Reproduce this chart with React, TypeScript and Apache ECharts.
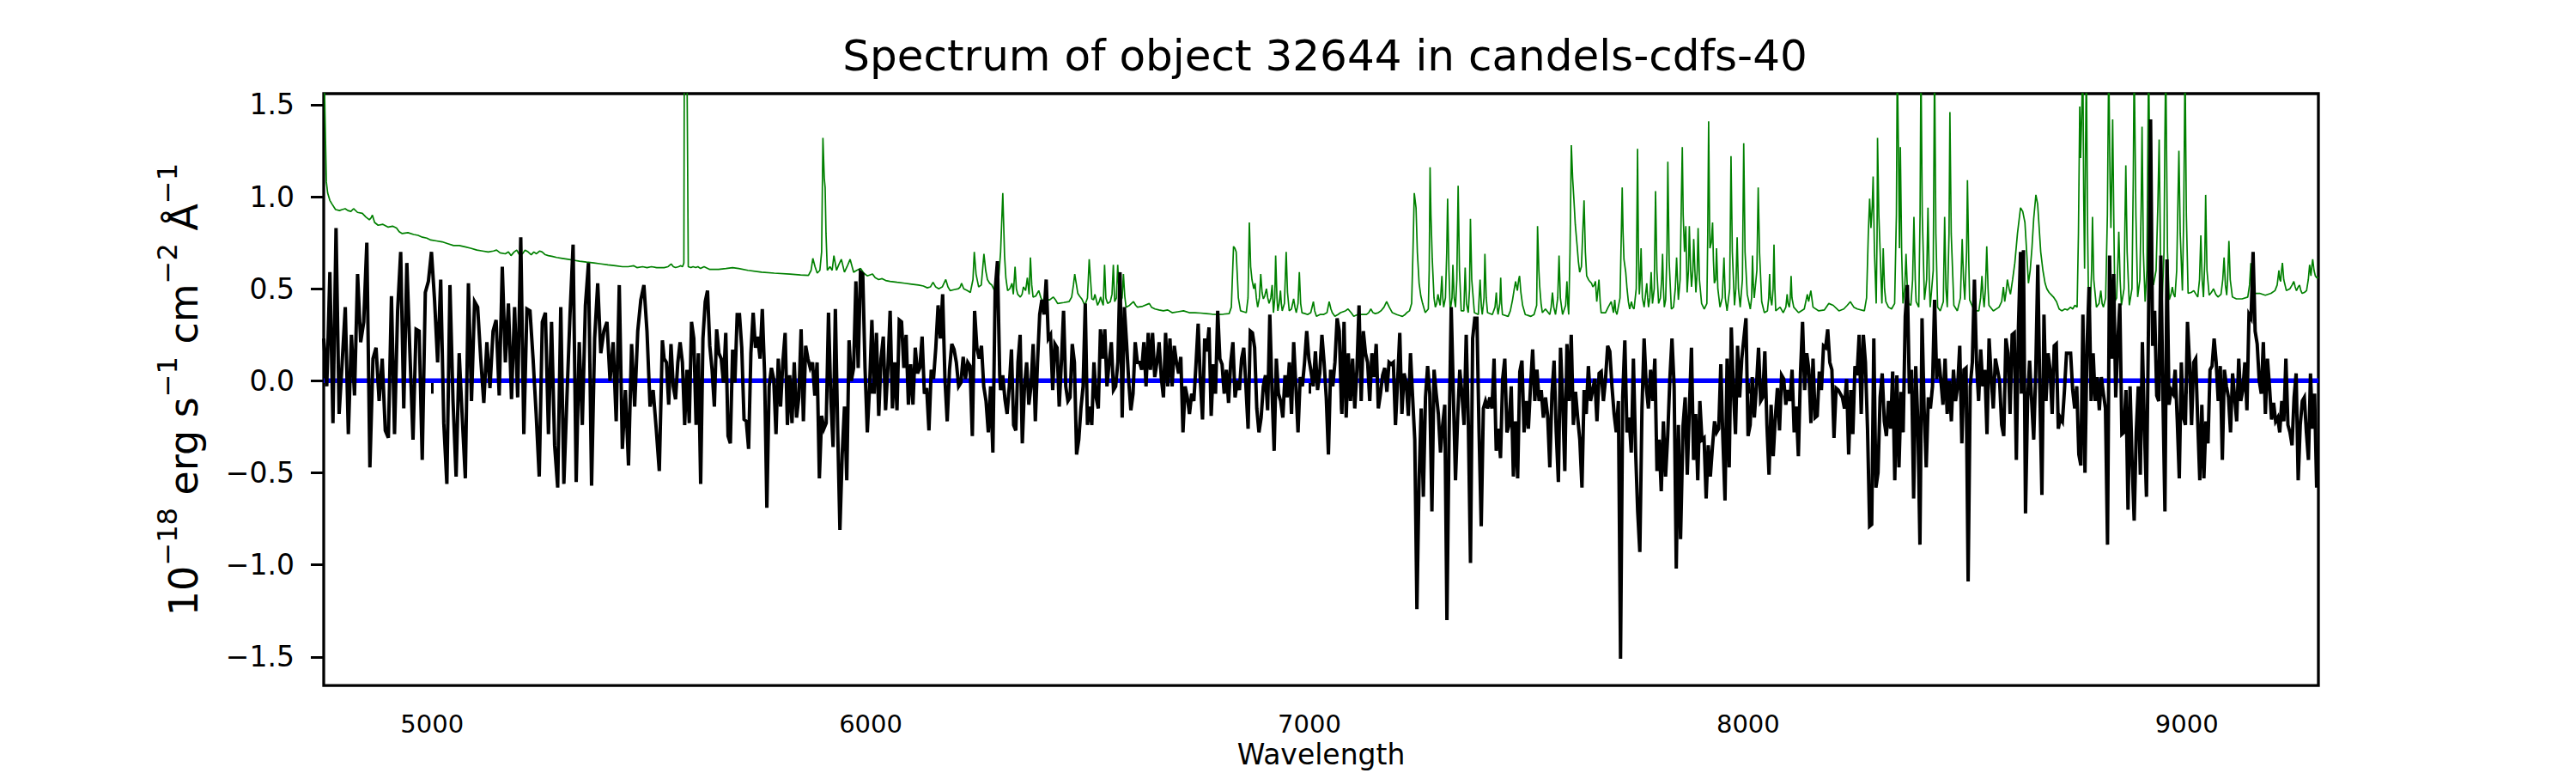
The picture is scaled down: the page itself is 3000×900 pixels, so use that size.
import React, { useEffect, useRef } from "react";
import * as echarts from "echarts";

const TITLE = "Spectrum of object 32644 in candels-cdfs-40";
const X_NAME = "Wavelength";
const X_MIN = 4753;
const X_MAX = 9300;
const Y_MIN = -1.655;
const Y_MAX = 1.56;
const X_TICKS = [5000, 6000, 7000, 8000, 9000];
const Y_TICKS = [-1.5, -1.0, -0.5, 0.0, 0.5, 1.0, 1.5];

// model (blue)
const MODEL_WAVE = [4753, 9300];
const MODEL_FLUX = [0, 0];

// observed flux (black), segments sampled evenly between their wavelength bounds
const FLUX_A_RANGE = [4753, 5525];
const FLUX_A = [0.23,-0.03,0.59,-0.23,0.83,-0.18,0.10,0.40,-0.29,0.25,
-0.08,0.58,0.21,0.32,0.75,-0.47,0.12,0.18,-0.11,0.12,
-0.27,-0.31,0.46,-0.29,0.38,0.70,-0.15,0.64,0.15,-0.32,
0.28,0.27,-0.43,0.48,0.54,0.70,0.44,0.10,0.55,-0.23,
-0.56,0.52,-0.11,-0.52,0.15,-0.20,-0.53,0.53,-0.11,0.43,
0.40,0.12,-0.12,0.21,-0.04,0.27,0.33,-0.08,0.62,0.10,
0.42,-0.10,0.40,-0.09,0.78,-0.29,0.39,0.38,0.12,-0.18,
-0.52,0.32,0.37,-0.29,0.32,-0.35,-0.58,0.40,-0.56,-0.09,
0.36,0.74,-0.55,0.21,-0.24,0.41,0.64,-0.57,0.23,0.53,
0.15,0.27,0.32,0.00,0.21,-0.22,0.52,-0.37,-0.05,-0.46,
0.20,-0.14,0.27,0.44,0.52,0.27,-0.14,-0.05,-0.26,-0.49,
0.22];
const FLUX_B_RANGE = [5529, 6294];
const FLUX_B = [0.12,0.10,-0.13,0.20,-0.03,-0.10,0.10,0.21,0.10,-0.24,
0.06,-0.23,0.32,0.23,-0.24,0.15,-0.56,0.23,0.43,0.49,
0.19,0.06,-0.14,0.28,0.15,0.12,-0.01,0.26,-0.30,-0.34,
0.17,-0.01,0.36,0.36,0.18,-0.21,-0.22,-0.37,0.15,0.37,
0.18,0.24,0.12,0.39,0.04,-0.69,-0.03,0.07,0.01,-0.29,
0.12,-0.14,0.10,0.26,-0.24,0.03,-0.23,0.10,-0.20,-0.09,
0.28,-0.22,0.19,0.12,0.07,0.10,-0.08,0.10,-0.53,-0.19,
-0.26,-0.23,0.37,-0.09,-0.36,0.39,-0.25,-0.81,-0.40,-0.14,
-0.54,0.22,0.00,0.07,0.54,0.07,0.59,0.58,0.07,-0.28,
-0.03,0.33,-0.07,0.26,-0.19,0.12,0.24,-0.16,0.07,0.38,
-0.15,0.10,-0.16,0.33,0.32,0.07,0.25,-0.13,0.09,-0.13,
0.18,0.04,0.07,0.24,-0.07,-0.04,-0.27,0.06,0.01,0.18,
0.41,0.23,0.47,0.01,-0.22,0.06,0.20,0.17,0.10,-0.03,
-0.01,0.13,0.01,0.10,0.08,-0.30,0.38,0.18,0.12,0.19,
-0.03,-0.11,-0.28,-0.03,-0.39,0.49,0.65,0.03];
const FLUX_C_RANGE = [6296, 7073];
const FLUX_C = [-0.05,0.03,-0.10,-0.18,-0.03,0.17,-0.24,-0.27,0.10,0.25,
-0.34,-0.03,0.10,-0.13,-0.03,0.20,-0.22,0.10,0.36,0.44,
0.36,0.55,0.23,0.25,-0.05,0.20,0.18,-0.14,0.10,0.38,
-0.03,-0.11,-0.09,0.20,0.10,-0.40,-0.32,-0.15,-0.03,0.42,
-0.24,-0.14,-0.24,0.10,-0.09,-0.15,0.28,0.12,0.28,-0.03,
0.10,0.21,-0.05,-0.03,0.10,0.59,-0.20,0.40,0.21,0.00,
-0.16,-0.07,0.21,0.10,0.10,0.06,0.21,-0.03,0.26,0.06,
0.26,0.02,0.10,0.21,0.02,-0.09,0.26,-0.03,0.23,-0.03,
0.19,0.10,0.04,0.13,-0.28,-0.03,-0.09,-0.18,-0.07,-0.11,
0.09,0.31,0.00,-0.21,0.23,0.16,0.29,-0.19,0.09,-0.07,
0.38,0.12,0.09,-0.07,0.06,-0.12,0.10,0.21,-0.09,0.00,
-0.05,0.12,0.18,-0.03,-0.26,0.27,0.26,0.18,-0.15,-0.28,
-0.20,-0.03,0.03,-0.16,0.36,-0.05,-0.38,0.12,-0.07,-0.11,
-0.20,0.03,-0.09,0.10,-0.18,0.21,-0.03,-0.28,0.02,-0.03,
0.10,0.27,0.12,0.05,-0.03,0.16,-0.05,0.04,0.25,0.10,
-0.09,-0.40,0.06,-0.03,0.10,0.34,0.27,-0.15];
const FLUX_D_RANGE = [7074, 7846];
const FLUX_D = [-0.18,0.32,-0.20,0.15,-0.11,0.12,-0.15,0.06,0.41,-0.11,
0.27,0.15,0.10,-0.11,0.15,0.02,0.20,-0.15,-0.07,0.03,
0.07,-0.06,0.10,0.09,0.10,-0.24,0.00,0.26,-0.18,0.04,
-0.01,-0.19,0.15,-0.09,-0.32,-1.24,-0.54,-0.15,-0.63,-0.09,
0.08,-0.07,-0.71,0.06,-0.07,-0.18,-0.39,-0.24,-0.13,-1.30,
-0.30,0.40,-0.07,-0.54,-0.20,0.06,-0.07,-0.24,0.25,-0.24,
-0.99,0.23,0.34,0.34,-0.28,-0.79,-0.15,-0.11,-0.15,-0.09,
-0.15,0.12,-0.38,-0.26,-0.42,0.01,0.12,-0.28,-0.24,-0.03,
-0.52,-0.22,-0.53,0.05,0.11,-0.28,-0.11,-0.26,-0.03,0.17,
-0.11,0.06,-0.11,-0.05,-0.20,-0.09,-0.19,-0.47,-0.07,0.11,
-0.28,-0.55,0.18,-0.11,-0.49,0.20,-0.11,0.25,-0.24,-0.06,
-0.20,-0.32,-0.58,-0.05,-0.18,0.08,-0.11,-0.05,0.01,-0.22,
0.04,0.05,-0.11,0.01,0.19,0.16,-0.03,-0.18,-0.28,-0.11,
-1.51,-0.09,0.22,-0.28,-0.20,-0.39,0.12,-0.37,-0.71,-0.93,
-0.15,0.23,-0.03,-0.15,0.06,-0.11,0.12,-0.49,-0.32,-0.60,
-0.22,-0.52,-0.30,0.01,0.23,-0.03,-1.02,-0.24,-0.86];
const FLUX_E_RANGE = [7847, 8621];
const FLUX_E = [-0.86,-0.24,-0.09,-0.51,-0.15,0.18,-0.43,-0.18,-0.54,-0.11,
-0.32,-0.31,-0.64,-0.35,-0.52,-0.36,-0.22,-0.28,-0.26,0.09,
-0.32,-0.65,0.12,-0.47,0.29,-0.05,-0.29,0.19,-0.09,0.12,
0.23,0.34,-0.30,-0.24,0.02,-0.20,-0.03,0.18,-0.11,-0.09,
0.16,-0.24,-0.51,-0.13,-0.41,-0.20,-0.04,-0.27,0.03,0.01,
-0.13,-0.05,-0.11,0.06,-0.28,-0.14,-0.41,0.04,0.32,-0.05,
0.15,0.06,-0.23,0.12,-0.20,-0.19,0.05,-0.05,0.19,0.18,
0.28,0.10,0.06,-0.31,-0.04,-0.05,-0.07,-0.09,-0.15,0.01,
-0.40,-0.05,-0.29,0.08,0.03,0.25,-0.18,0.25,0.10,-0.26,
-0.79,-0.78,0.23,-0.58,-0.50,-0.09,0.04,-0.22,-0.30,-0.11,
-0.26,0.05,-0.54,0.03,-0.47,-0.06,-0.28,0.35,0.52,-0.07,
0.06,-0.64,0.08,-0.22,-0.89,0.34,-0.15,-0.47,-0.09,-0.15,
-0.03,0.44,0.01,0.12,0.00,-0.13,0.12,-0.18,0.00,-0.22,
0.06,-0.11,-0.03,0.19,-0.34,0.06,0.07,-1.09,-0.03,0.10,
0.55,0.10,-0.11,0.17,-0.03,0.06,-0.29,0.23,0.02,-0.15,
0.12,0.06,0.00,-0.24,-0.30,0.23,0.15,-0.18,0.25,0.26,
-0.43,0.29,0.70];
const FLUX_F_RANGE = [8623, 9296];
const FLUX_F = [-0.07,0.71,-0.72,-0.11,0.11,-0.11,-0.32,0.06,0.63,-0.07,
-0.62,0.36,-0.11,0.15,0.06,-0.18,0.19,0.20,-0.26,-0.20,
-0.22,-0.05,0.15,0.15,0.15,-0.05,-0.15,-0.03,-0.40,-0.46,
0.36,-0.50,0.19,0.51,-0.11,0.15,-0.11,0.02,-0.16,0.02,
-0.07,-0.15,-0.89,0.68,0.12,0.58,-0.09,0.21,0.42,-0.29,
-0.28,-0.05,-0.70,-0.03,-0.45,-0.76,-0.28,-0.03,-0.51,0.21,
-0.26,-0.63,0.32,1.42,0.19,0.38,-0.08,-0.11,0.68,-0.07,
-0.71,0.66,-0.13,-0.05,-0.07,0.06,-0.21,-0.53,0.10,-0.20,
-0.24,0.32,0.10,-0.24,0.10,0.12,-0.22,-0.54,-0.13,-0.53,
-0.22,-0.34,0.06,0.08,0.23,0.10,-0.11,0.08,-0.43,0.06,
-0.03,-0.09,-0.28,0.04,-0.09,-0.22,0.12,-0.11,-0.05,0.10,
-0.16,0.36,0.34,0.70,0.27,0.20,0.00,-0.07,0.21,-0.18,
0.12,-0.03,-0.21,-0.12,-0.22,-0.20,-0.28,-0.11,-0.22,0.12,
-0.24,-0.28,-0.35,-0.09,0.04,-0.54,-0.24,-0.11,-0.09,-0.28,
-0.43,0.04,-0.26,-0.07,-0.58];

// noise / error spectrum (green), [wavelength, value]
const ERR_A = [[4753,1.75],[4755,1.56],[4759,1.08],[4762,1.02],[4767,0.98],[4772,0.96],[4780,0.93],[4789,0.925],[4795,0.93],[4802,0.935],[4808,0.925],[4815,0.92],[4821,0.935],[4830,0.915],[4841,0.91],[4849,0.89],[4857,0.875],[4861,0.885],[4864,0.90],[4869,0.86],[4877,0.845],[4888,0.85],[4900,0.835],[4910,0.84],[4919,0.83],[4925,0.81],[4932,0.80],[4945,0.805],[4958,0.795],[4968,0.79],[4978,0.78],[4988,0.775],[4997,0.765],[5010,0.76],[5023,0.755],[5036,0.745],[5049,0.735],[5062,0.735],[5075,0.728],[5088,0.72],[5102,0.71],[5115,0.705],[5128,0.70],[5140,0.705],[5147,0.71],[5155,0.695],[5167,0.69],[5174,0.70],[5180,0.68],[5187,0.70],[5193,0.71],[5199,0.685],[5206,0.69],[5212,0.71],[5219,0.70],[5226,0.685],[5232,0.70],[5238,0.69],[5245,0.705],[5251,0.70],[5258,0.685],[5265,0.68],[5275,0.675],[5284,0.67],[5297,0.665],[5310,0.66],[5323,0.655],[5336,0.65],[5352,0.645],[5369,0.64],[5385,0.635],[5401,0.63],[5418,0.625],[5434,0.62],[5447,0.62],[5460,0.625],[5467,0.615],[5480,0.62],[5490,0.615],[5500,0.62],[5512,0.615],[5525,0.615]];
const ERR_B = [[5529,0.615],[5538,0.62],[5545,0.635],[5550,0.62],[5555,0.615],[5562,0.62],[5567,0.625],[5571,0.62],[5574,0.64],[5575,1.75],[5581,1.75],[5584,0.62],[5590,0.615],[5595,0.62],[5601,0.615],[5606,0.62],[5612,0.61],[5620,0.62],[5633,0.605],[5653,0.605],[5670,0.61],[5685,0.615],[5699,0.61],[5720,0.60],[5751,0.59],[5780,0.585],[5816,0.58],[5840,0.575],[5858,0.573],[5864,0.60],[5868,0.665],[5873,0.62],[5878,0.585],[5884,0.60],[5888,0.70],[5891,1.32],[5894,1.10],[5896,1.05],[5898,0.80],[5901,0.60],[5907,0.62],[5912,0.60],[5916,0.68],[5922,0.60],[5927,0.63],[5933,0.66],[5940,0.59],[5946,0.62],[5953,0.66],[5961,0.59],[5968,0.60],[5977,0.61],[5984,0.585],[5992,0.57],[6004,0.58],[6010,0.56],[6018,0.55],[6026,0.555],[6034,0.545],[6044,0.54],[6060,0.535],[6077,0.53],[6093,0.525],[6109,0.52],[6120,0.515],[6129,0.505],[6136,0.51],[6142,0.535],[6148,0.51],[6155,0.50],[6163,0.51],[6171,0.55],[6176,0.51],[6181,0.49],[6190,0.495],[6200,0.50],[6204,0.51],[6207,0.53],[6212,0.50],[6220,0.49],[6227,0.48],[6233,0.55],[6236,0.70],[6240,0.58],[6246,0.51],[6252,0.52],[6258,0.69],[6262,0.60],[6266,0.55],[6271,0.53],[6276,0.52],[6282,0.49],[6288,0.52],[6292,0.57]];
const ERR_C = [[6296,0.70],[6301,1.02],[6303,0.85],[6305,0.68],[6308,0.56],[6312,0.49],[6317,0.50],[6322,0.53],[6325,0.47],[6329,0.62],[6332,0.50],[6335,0.47],[6341,0.455],[6345,0.47],[6348,0.51],[6353,0.49],[6357,0.56],[6361,0.47],[6364,0.67],[6367,0.52],[6370,0.455],[6376,0.46],[6383,0.49],[6388,0.45],[6393,0.43],[6400,0.44],[6408,0.44],[6416,0.455],[6421,0.44],[6426,0.42],[6440,0.425],[6452,0.43],[6458,0.455],[6462,0.52],[6465,0.58],[6469,0.52],[6472,0.475],[6476,0.46],[6481,0.445],[6488,0.41],[6494,0.45],[6498,0.66],[6501,0.55],[6504,0.445],[6508,0.44],[6511,0.47],[6514,0.44],[6517,0.41],[6521,0.43],[6524,0.455],[6527,0.43],[6530,0.41],[6533,0.63],[6536,0.45],[6540,0.42],[6546,0.43],[6550,0.47],[6553,0.63],[6556,0.43],[6560,0.45],[6563,0.63],[6566,0.48],[6569,0.43],[6573,0.45],[6576,0.58],[6579,0.46],[6582,0.40],[6590,0.41],[6599,0.43],[6604,0.41],[6608,0.40],[6620,0.405],[6635,0.42],[6640,0.40],[6648,0.39],[6657,0.385],[6667,0.38],[6677,0.385],[6687,0.37],[6700,0.375],[6713,0.38],[6726,0.37],[6739,0.37],[6752,0.368],[6765,0.365],[6778,0.362],[6791,0.36],[6804,0.362],[6817,0.365],[6822,0.40],[6827,0.73],[6830,0.72],[6833,0.70],[6838,0.45],[6843,0.38],[6850,0.375],[6856,0.37],[6860,0.45],[6863,0.86],[6866,0.62],[6869,0.55],[6873,0.50],[6876,0.53],[6879,0.45],[6882,0.40],[6886,0.45],[6889,0.58],[6892,0.48],[6895,0.445],[6898,0.46],[6902,0.50],[6905,0.45],[6908,0.42],[6912,0.45],[6915,0.52],[6918,0.37],[6921,0.45],[6923,0.68],[6926,0.45],[6928,0.38],[6931,0.42],[6934,0.49],[6936,0.42],[6938,0.38],[6943,0.42],[6947,0.70],[6950,0.48],[6954,0.38],[6959,0.39],[6964,0.445],[6967,0.40],[6970,0.37],[6974,0.42],[6977,0.59],[6980,0.42],[6983,0.37],[6990,0.365],[6996,0.36],[7003,0.37],[7009,0.43],[7012,0.38],[7016,0.35],[7024,0.36],[7032,0.36],[7040,0.37],[7045,0.43],[7049,0.39],[7052,0.37],[7058,0.35],[7065,0.36],[7071,0.37]];
const ERR_D = [[7082,0.38],[7088,0.39],[7095,0.37],[7101,0.35],[7110,0.36],[7121,0.36],[7130,0.36],[7135,0.37],[7140,0.39],[7145,0.37],[7150,0.365],[7157,0.37],[7163,0.38],[7170,0.40],[7176,0.43],[7182,0.40],[7189,0.37],[7199,0.36],[7205,0.355],[7212,0.35],[7218,0.36],[7222,0.37],[7228,0.38],[7233,0.42],[7236,0.70],[7239,1.02],[7243,0.94],[7246,0.70],[7250,0.53],[7254,0.46],[7258,0.42],[7264,0.37],[7271,0.39],[7273,0.60],[7275,1.16],[7277,0.90],[7280,0.66],[7284,0.45],[7287,0.40],[7290,0.42],[7293,0.47],[7296,0.43],[7298,0.41],[7302,0.57],[7304,0.45],[7306,0.40],[7310,0.45],[7313,0.70],[7315,0.99],[7318,0.60],[7321,0.38],[7325,0.45],[7327,0.63],[7330,0.45],[7333,0.40],[7336,0.55],[7339,1.06],[7342,0.60],[7346,0.38],[7352,0.38],[7355,0.615],[7358,0.42],[7362,0.37],[7365,0.50],[7367,0.88],[7370,0.55],[7376,0.37],[7385,0.36],[7389,0.55],[7392,0.40],[7394,0.36],[7398,0.45],[7400,0.69],[7403,0.45],[7406,0.37],[7417,0.36],[7423,0.40],[7426,0.48],[7428,0.40],[7430,0.36],[7434,0.42],[7436,0.56],[7438,0.42],[7440,0.36],[7453,0.35],[7458,0.38],[7463,0.44],[7467,0.50],[7470,0.54],[7474,0.49],[7477,0.55],[7479,0.57],[7482,0.48],[7486,0.41],[7492,0.36],[7505,0.35],[7512,0.36],[7518,0.41],[7520,0.84],[7523,0.60],[7525,0.51],[7528,0.42],[7531,0.37],[7538,0.39],[7548,0.36],[7551,0.40],[7554,0.48],[7557,0.40],[7561,0.36],[7566,0.45],[7569,0.68],[7572,0.45],[7577,0.36],[7584,0.41],[7587,0.54],[7589,0.42],[7591,0.36],[7594,0.70],[7597,1.28],[7600,1.10],[7603,0.98],[7606,0.85],[7610,0.74],[7613,0.65],[7616,0.59],[7620,0.62],[7623,0.80],[7626,0.98],[7629,0.70],[7632,0.57],[7636,0.55],[7639,0.54],[7643,0.53],[7646,0.51],[7649,0.52],[7652,0.54],[7655,0.43],[7658,0.50],[7660,0.55],[7663,0.42],[7665,0.37],[7675,0.37],[7681,0.40],[7688,0.43],[7693,0.37],[7696,0.44],[7698,0.38],[7701,0.36],[7708,0.45],[7711,0.80],[7713,1.05],[7715,0.80],[7717,0.66],[7721,0.59],[7724,0.50],[7727,0.43],[7730,0.39],[7734,0.43],[7737,0.40],[7740,0.39],[7745,0.50],[7748,1.26],[7750,0.70],[7752,0.47],[7754,0.55],[7756,0.72],[7759,0.45],[7763,0.40],[7769,0.53],[7771,0.45],[7773,0.40],[7776,0.45],[7779,0.59],[7782,0.42],[7786,0.50],[7789,1.03],[7792,0.60],[7796,0.42],[7800,0.45],[7803,0.55],[7805,0.69],[7807,0.50],[7809,0.40],[7812,0.44],[7815,0.70],[7817,1.19],[7820,0.65],[7825,0.39],[7830,0.40],[7834,0.50],[7837,0.67],[7839,0.55],[7841,0.44],[7845,0.55],[7848,1.00],[7850,1.27],[7852,0.90]];
const ERR_E = [[7855,0.70],[7858,0.84],[7861,0.48],[7864,0.60],[7866,0.84],[7869,0.60],[7871,0.51],[7874,0.60],[7876,0.77],[7879,0.58],[7881,0.48],[7884,0.60],[7886,0.83],[7889,0.55],[7894,0.42],[7900,0.39],[7906,0.42],[7908,0.80],[7910,1.41],[7912,0.90],[7913,0.72],[7916,0.75],[7919,0.86],[7921,0.65],[7923,0.53],[7926,0.55],[7928,0.72],[7931,0.50],[7936,0.40],[7941,0.45],[7945,0.67],[7948,0.45],[7952,0.38],[7958,0.50],[7961,1.22],[7964,0.70],[7969,0.41],[7972,0.50],[7975,0.78],[7978,0.50],[7982,0.40],[7987,0.55],[7990,1.29],[7993,0.70],[7998,0.47],[8005,0.39],[8008,0.45],[8010,0.68],[8012,0.52],[8014,0.45],[8020,0.60],[8023,1.05],[8026,0.70],[8031,0.43],[8037,0.37],[8044,0.38],[8047,0.45],[8049,0.58],[8051,0.45],[8054,0.41],[8057,0.50],[8059,0.74],[8061,0.50],[8063,0.38],[8073,0.40],[8080,0.37],[8086,0.40],[8089,0.47],[8091,0.42],[8094,0.40],[8096,0.45],[8098,0.57],[8100,0.45],[8104,0.40],[8115,0.37],[8128,0.39],[8135,0.47],[8138,0.43],[8143,0.49],[8148,0.40],[8161,0.38],[8174,0.385],[8184,0.42],[8194,0.41],[8207,0.38],[8218,0.39],[8226,0.41],[8233,0.43],[8241,0.40],[8249,0.39],[8265,0.38],[8270,0.45],[8274,0.80],[8277,0.99],[8280,0.83],[8283,0.95],[8285,1.11],[8288,0.70],[8292,0.42],[8294,0.80],[8295,1.32],[8298,0.90],[8301,0.70],[8303,0.55],[8305,0.42],[8308,0.72],[8311,0.50],[8314,0.43],[8320,0.40],[8327,0.39],[8334,0.42],[8338,0.90],[8340,1.75],[8343,1.20],[8345,0.72],[8347,1.27],[8350,0.70],[8353,0.42],[8357,0.50],[8360,0.69],[8363,0.50],[8366,0.42],[8371,0.41],[8375,0.55],[8378,0.89],[8381,0.55],[8383,0.43],[8389,0.40],[8392,0.90],[8394,1.75],[8397,0.90],[8402,0.44],[8407,0.55],[8410,0.94],[8413,0.55],[8415,0.40],[8422,0.60],[8425,1.75],[8428,0.80],[8432,0.40],[8438,0.38],[8445,0.43],[8448,0.89],[8451,0.50],[8454,0.40],[8458,0.80],[8460,1.46],[8463,0.80],[8469,0.41],[8477,0.38],[8484,0.45],[8488,0.77],[8491,0.55],[8494,0.44],[8498,0.70],[8500,1.09],[8503,0.65],[8505,0.44],[8512,0.40],[8520,0.38],[8526,0.38],[8530,0.45],[8533,0.57],[8536,0.45],[8538,0.40],[8541,0.50],[8544,0.73],[8547,0.50],[8549,0.41],[8559,0.38],[8572,0.40],[8578,0.43],[8582,0.51],[8585,0.43],[8588,0.48],[8591,0.55],[8595,0.50],[8598,0.47],[8603,0.55],[8608,0.64],[8614,0.80],[8621,0.94]];
const ERR_F = [[8626,0.92],[8631,0.86],[8635,0.70],[8639,0.53],[8643,0.60],[8647,0.72],[8651,0.88],[8656,1.01],[8660,0.96],[8663,0.85],[8667,0.70],[8672,0.60],[8677,0.53],[8681,0.50],[8686,0.48],[8690,0.47],[8696,0.455],[8703,0.43],[8709,0.39],[8715,0.38],[8722,0.39],[8728,0.385],[8735,0.40],[8740,0.39],[8745,0.41],[8750,0.40],[8753,0.80],[8756,1.49],[8758,1.21],[8760,1.40],[8763,1.75],[8765,1.00],[8767,0.61],[8769,1.20],[8771,1.75],[8774,0.80],[8776,0.43],[8780,0.40],[8783,0.60],[8785,0.89],[8788,0.55],[8794,0.40],[8800,0.42],[8804,0.49],[8807,0.42],[8810,0.40],[8815,0.45],[8819,0.90],[8822,1.75],[8825,1.10],[8827,0.83],[8829,1.10],[8831,1.42],[8834,0.80],[8836,0.43],[8840,0.45],[8843,0.65],[8845,0.81],[8848,0.55],[8851,0.41],[8857,0.50],[8859,0.85],[8861,1.17],[8864,0.70],[8869,0.41],[8875,0.50],[8878,1.10],[8880,1.75],[8884,0.90],[8888,0.455],[8893,0.55],[8896,0.95],[8898,1.38],[8901,0.70],[8905,0.43],[8909,0.60],[8911,1.20],[8913,1.75],[8917,0.80],[8921,0.55],[8924,0.52],[8930,0.60],[8934,0.95],[8937,1.31],[8940,0.70],[8944,0.44],[8948,0.70],[8950,1.30],[8952,1.75],[8956,0.70],[8960,0.44],[8964,0.47],[8967,0.51],[8970,0.47],[8973,0.455],[8977,0.60],[8980,1.00],[8982,1.25],[8985,0.80],[8990,0.49],[8993,0.90],[8996,1.75],[8999,0.90],[9003,0.475],[9010,0.48],[9016,0.49],[9021,0.47],[9025,0.455],[9029,0.55],[9032,0.79],[9035,0.55],[9038,0.455],[9041,0.65],[9043,1.01],[9046,0.60],[9051,0.465],[9056,0.48],[9061,0.50],[9066,0.47],[9071,0.455],[9078,0.47],[9082,0.55],[9085,0.67],[9088,0.52],[9091,0.465],[9093,0.55],[9096,0.76],[9099,0.55],[9104,0.455],[9113,0.445],[9126,0.445],[9139,0.455],[9143,0.52],[9146,0.64],[9149,0.52],[9152,0.475],[9166,0.475],[9179,0.465],[9192,0.475],[9201,0.49],[9206,0.52],[9210,0.60],[9212,0.55],[9214,0.54],[9216,0.60],[9218,0.64],[9221,0.55],[9227,0.49],[9235,0.50],[9240,0.52],[9244,0.54],[9247,0.51],[9250,0.49],[9254,0.51],[9257,0.52],[9260,0.49],[9263,0.475],[9268,0.48],[9273,0.49],[9277,0.55],[9280,0.63],[9283,0.57],[9285,0.62],[9287,0.66],[9290,0.60],[9293,0.57],[9296,0.56],[9300,0.56]];

function segment(range: number[], values: number[]) {
  const [a, b] = range;
  const n = values.length;
  return values.map((v, i) => [a + ((b - a) * i) / (n - 1), v]);
}

const FONT = "DejaVu Sans";

export default function App() {
  const ref = useRef<HTMLDivElement>(null);
  useEffect(() => {
    document.body.style.margin = "0";
    if (!ref.current) return;
    const chart = echarts.init(ref.current, undefined, { renderer: "svg" });
    const flux = [
      ...segment(FLUX_A_RANGE, FLUX_A),
      ...segment(FLUX_B_RANGE, FLUX_B),
      ...segment(FLUX_C_RANGE, FLUX_C),
      ...segment(FLUX_D_RANGE, FLUX_D),
      ...segment(FLUX_E_RANGE, FLUX_E),
      ...segment(FLUX_F_RANGE, FLUX_F),
    ];
    const err = [...ERR_A, ...ERR_B, ...ERR_C, ...ERR_D, ...ERR_E, ...ERR_F];
    const model = MODEL_WAVE.map((w, i) => [w, MODEL_FLUX[i]]);
    const fmtY = (v: number) => (v < 0 ? "\u2212" : "") + Math.abs(v).toFixed(1);
    chart.setOption({
      animation: false,
      backgroundColor: "#ffffff",
      textStyle: { fontFamily: FONT },
      title: {
        text: TITLE,
        left: 1538,
        textAlign: "center",
        top: 35,
        textStyle: { fontFamily: FONT, fontSize: 50, fontWeight: "normal", color: "#000" },
      },
      grid: {
        left: 377,
        right: 300,
        top: 109,
        bottom: 96,
        show: true,
        borderColor: "#000",
        borderWidth: 3.3,
        backgroundColor: "transparent",
      },
      xAxis: {
        type: "value",
        min: X_MIN,
        max: X_MAX,
        name: X_NAME,
        nameLocation: "middle",
        nameGap: 58,
        nameTextStyle: { fontFamily: FONT, fontSize: 33, color: "#000" },
        axisLine: { show: false },
        splitLine: { show: false },
        axisTick: {
          show: true,
          inside: false,
          length: 15,
          customValues: X_TICKS,
          lineStyle: { color: "#000", width: 3 },
        },
        axisLabel: {
          customValues: X_TICKS,
          margin: 30,
          fontFamily: FONT,
          fontSize: 29,
          color: "#000",
          formatter: (v: number) => String(v),
        },
      },
      yAxis: {
        type: "value",
        min: Y_MIN,
        max: Y_MAX,
        name: "{b|10}{s|\u221218}{b| erg s}{s|\u22121}{b| cm}{s|\u22122}{b| \u00c5}{s|\u22121}",
        nameLocation: "middle",
        nameGap: 140,
        nameTextStyle: {
          fontFamily: FONT,
          color: "#000",
          rich: {
            b: { fontFamily: FONT, fontSize: 46, lineHeight: 46, color: "#000", verticalAlign: "bottom" },
            s: { fontFamily: FONT, fontSize: 32, lineHeight: 32, color: "#000", verticalAlign: "bottom", padding: [0, 0, 26, 0] },
          },
        },
        axisLine: { show: false },
        splitLine: { show: false },
        axisTick: {
          show: true,
          inside: false,
          length: 15,
          customValues: Y_TICKS,
          lineStyle: { color: "#000", width: 3 },
        },
        axisLabel: {
          customValues: Y_TICKS,
          margin: 34,
          fontFamily: FONT,
          fontSize: 33,
          color: "#000",
          formatter: fmtY,
        },
      },
      series: [
        {
          name: "model",
          type: "line",
          data: model,
          symbol: "none",
          silent: true,
          lineStyle: { color: "#0000ff", width: 5.5 },
          z: 2,
        },
        {
          name: "error",
          type: "line",
          data: err,
          symbol: "none",
          silent: true,
          clip: true,
          lineStyle: { color: "#008000", width: 1.7 },
          z: 3,
        },
        {
          name: "flux",
          type: "line",
          data: flux,
          symbol: "none",
          silent: true,
          clip: true,
          lineStyle: { color: "#000000", width: 4, join: "miter" },
          z: 4,
        },
      ],
    });
    return () => chart.dispose();
  }, []);
  return <div ref={ref} style={{ width: "3000px", height: "900px", background: "#fff" }} />;
}
